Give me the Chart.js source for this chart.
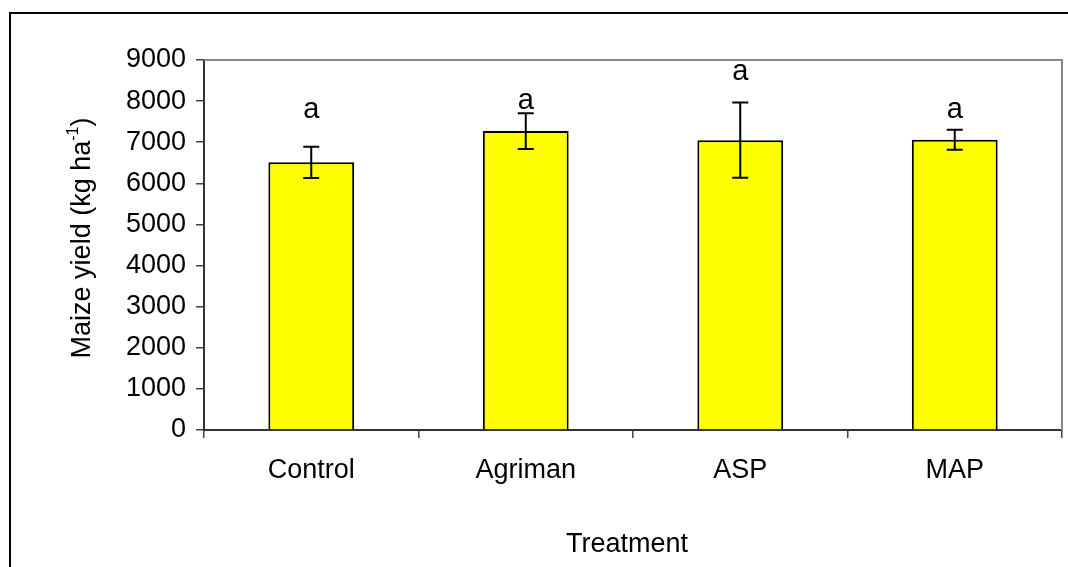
<!DOCTYPE html>
<html>
<head>
<meta charset="utf-8">
<script src="https://cdn.jsdelivr.net/npm/chart.js@4/dist/chart.umd.min.js"></script>
<style>
  html, body { margin: 0; padding: 0; background: #fff; }
  #wrap { position: relative; width: 1068px; height: 567px; overflow: hidden; }
  #frame { position: absolute; left: 9px; top: 12px; width: 1200px; height: 700px;
           border-left: 2px solid #000; border-top: 2px solid #000; }
  #yieldChart { position: absolute; left: 0; top: 0; }
</style>
</head>
<body>
<div id="wrap">
  <div id="frame"></div>
  <canvas id="yieldChart" width="1068" height="567"></canvas>
</div>
<script>
const treatments = ['Control', 'Agriman', 'ASP', 'MAP'];
const yieldMean = [6510, 7270, 7050, 7060];
const yieldErr = [380, 435, 917, 245];
// significance letters and the height (kg/ha) where each sits
const letters = ['a', 'a', 'a', 'a'];
const letterAt = [7590, 7800, 8510, 7580];
const yTicks = [0, 1000, 2000, 3000, 4000, 5000, 6000, 7000, 8000, 9000];

const FONT = "'Liberation Sans', Arial, sans-serif";

const extras = {
  id: 'extras',
  afterDatasetsDraw(chart) {
    const ctx = chart.ctx;
    const x = chart.scales.x, y = chart.scales.y;
    ctx.save();
    ctx.strokeStyle = '#000';
    ctx.lineWidth = 2;
    yieldMean.forEach((m, i) => {
      const px = x.getPixelForValue(i);
      const top = y.getPixelForValue(m + yieldErr[i]);
      const bot = y.getPixelForValue(m - yieldErr[i]);
      ctx.beginPath();
      ctx.moveTo(px, top); ctx.lineTo(px, bot);
      ctx.moveTo(px - 8, top); ctx.lineTo(px + 8, top);
      ctx.moveTo(px - 8, bot); ctx.lineTo(px + 8, bot);
      ctx.stroke();
    });
    ctx.fillStyle = '#000';
    ctx.font = '29px ' + FONT;
    ctx.textAlign = 'center';
    ctx.textBaseline = 'alphabetic';
    letters.forEach((t, i) => {
      ctx.fillText(t, x.getPixelForValue(i), y.getPixelForValue(letterAt[i]));
    });
    ctx.restore();
  },
  afterDraw(chart) {
    const ctx = chart.ctx;
    const a = chart.chartArea;
    ctx.save();
    // grey frame on top and right of plot area
    ctx.strokeStyle = '#888';
    ctx.lineWidth = 2;
    ctx.beginPath();
    ctx.moveTo(a.left, a.top);
    ctx.lineTo(a.right, a.top);
    ctx.lineTo(a.right, a.bottom);
    ctx.stroke();

    ctx.fillStyle = '#000';
    // x title
    ctx.font = '27px ' + FONT;
    ctx.textAlign = 'center';
    ctx.textBaseline = 'middle';
    ctx.fillText('Treatment', 627, 545);

    // y title with superscript
    const main = 'Maize yield (kg ha', sup = '-1', close = ')';
    ctx.font = '27px ' + FONT;
    const w1 = ctx.measureText(main).width;
    const w3 = ctx.measureText(close).width;
    ctx.font = '16px ' + FONT;
    const w2 = ctx.measureText(sup).width;
    const total = w1 + w2 + w3;
    ctx.translate(80, 238);
    ctx.rotate(-Math.PI / 2);
    ctx.textAlign = 'left';
    ctx.textBaseline = 'alphabetic';
    let sx = -total / 2;
    ctx.font = '27px ' + FONT;
    ctx.fillText(main, sx, 10);
    sx += w1;
    ctx.font = '16px ' + FONT;
    ctx.fillText(sup, sx, -2);
    sx += w2;
    ctx.font = '27px ' + FONT;
    ctx.fillText(close, sx, 10);
    ctx.restore();
  }
};

new Chart(document.getElementById('yieldChart'), {
  type: 'bar',
  data: {
    labels: treatments,
    datasets: [{
      data: yieldMean,
      backgroundColor: '#ffff00',
      borderColor: '#000',
      borderWidth: 2,
      barPercentage: 0.4,
      categoryPercentage: 1
    }]
  },
  options: {
    responsive: false,
    animation: false,
    devicePixelRatio: 1,
    layout: { padding: { top: 60, right: 6, left: 0, bottom: 0 } },
    plugins: { legend: { display: false }, tooltip: { enabled: false } },
    scales: {
      x: {
        grid: { offset: true, drawOnChartArea: false, tickLength: 8, color: '#444', lineWidth: 1.5 },
        border: { color: '#333', width: 2 },
        ticks: { color: '#000', font: { family: FONT, size: 27 }, padding: 16 },
        afterFit(s) { s.height = 137; }
      },
      y: {
        min: 0,
        max: 9000,
        afterBuildTicks(s) { s.ticks = yTicks.map(v => ({ value: v })); },
        grid: { drawOnChartArea: false, tickLength: 8, color: '#444', lineWidth: 1.5 },
        border: { color: '#333', width: 2 },
        ticks: { color: '#000', font: { family: FONT, size: 27 }, padding: 10, callback: v => String(v) },
        afterFit(s) { s.width = 204; }
      }
    }
  },
  plugins: [extras]
});
</script>
</body>
</html>
